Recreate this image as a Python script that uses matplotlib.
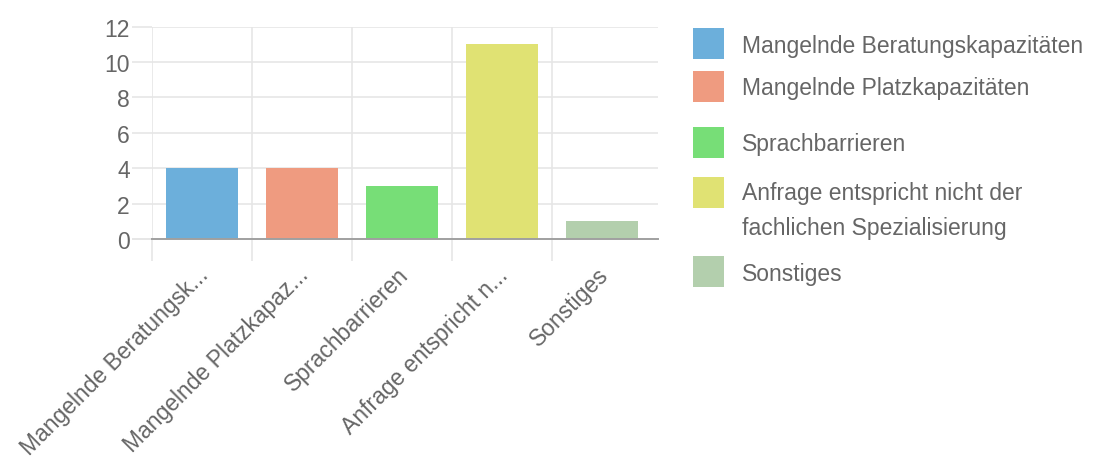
import matplotlib
matplotlib.use("Agg")
import matplotlib.pyplot as plt
import matplotlib.transforms as mtransforms
from matplotlib.patches import Rectangle

categories = ["Mangelnde Beratungskapazitäten", "Mangelnde Platzkapazitäten",
              "Sprachbarrieren",
              "Anfrage entspricht nicht der\nfachlichen Spezialisierung",
              "Sonstiges"]
tick_labels = ["Mangelnde Beratungsk...", "Mangelnde Platzkapaz...", "Sprachbarrieren",
               "Anfrage entspricht n...", "Sonstiges"]
values = [4, 4, 3, 11, 1]
colors = ["#6cafdb", "#ef9b80", "#77de77", "#e0e273", "#b3cfad"]
y_ticks = [0, 2, 4, 6, 8, 10, 12]

W, H, DPI = 1103, 464, 100
plt.rcParams['font.family'] = ['Liberation Sans', 'DejaVu Sans']
TXT = "#666666"
GRID = "#e6e6e6"
FS = 16.5

fig = plt.figure(figsize=(W / DPI, H / DPI), dpi=DPI)
# axes in pixels: left 152, right 658, top 27.7, bottom 240
L, R, T, B = 152, 658, 27.7, 240
ax = fig.add_axes([L / W, 1 - B / H, (R - L) / W, (B - T) / H])

x = list(range(len(values)))
ax.bar(x, values, width=0.72, color=colors, edgecolor="none", zorder=3)

ax.set_xlim(-0.5, -0.5 + (R - L) / 100.0)
ax.set_ylim(0, 12)
ax.set_yticks(y_ticks)
ax.set_yticklabels([str(v) for v in y_ticks])
ax.set_xticks(x)
ax.set_xticklabels(tick_labels, rotation=45, ha="right", va="center",
                   rotation_mode="anchor")
ax.set_xticks([i - 0.5 for i in range(len(values))], minor=True)

for s in ["top", "right", "left"]:
    ax.spines[s].set_visible(False)
ax.spines["bottom"].set_color("#a0a0a0")
ax.spines["bottom"].set_linewidth(1.4)
ax.spines["bottom"].set_zorder(4)

ax.grid(axis="y", which="major", color=GRID, linewidth=1.2, zorder=0)
ax.grid(axis="x", which="minor", color=GRID, linewidth=1.2, zorder=0)
ax.tick_params(axis="y", length=14.4, color=GRID, width=1.2, pad=1.5,
               labelsize=FS, labelcolor=TXT)
ax.tick_params(axis="x", which="major", length=0, pad=23, labelsize=FS,
               labelcolor=TXT)
ax.tick_params(axis="x", which="minor", length=16, color=GRID, width=1.2)
zt = ax.yaxis.get_major_ticks()[0]
zt.tick1line.set_color("#a0a0a0")
zt.tick1line.set_markeredgewidth(1.4)

offset = mtransforms.ScaledTranslation(3 / DPI, 0, fig.dpi_scale_trans)
for lab in ax.get_xticklabels():
    lab.set_transform(lab.get_transform() + offset)

# legend (manual, pixel positions)
sq_x, sq_w = 693, 31
centers = [44, 87, 143, 193, 272]
for c, col, lab in zip(centers, colors, categories):
    fig.add_artist(Rectangle((sq_x / W, 1 - (c + sq_w / 2) / H), sq_w / W, sq_w / H,
                             transform=fig.transFigure, facecolor=col,
                             edgecolor="none"))
    if "\n" in lab:
        fig.text(742 / W, 1 - (c - 11) / H, lab, ha="left", va="top",
                 fontsize=FS, color=TXT, linespacing=1.65)
    else:
        fig.text(742 / W, 1 - (c + 2) / H, lab, ha="left", va="center",
                 fontsize=FS, color=TXT)

fig.savefig("out.png", dpi=DPI)
